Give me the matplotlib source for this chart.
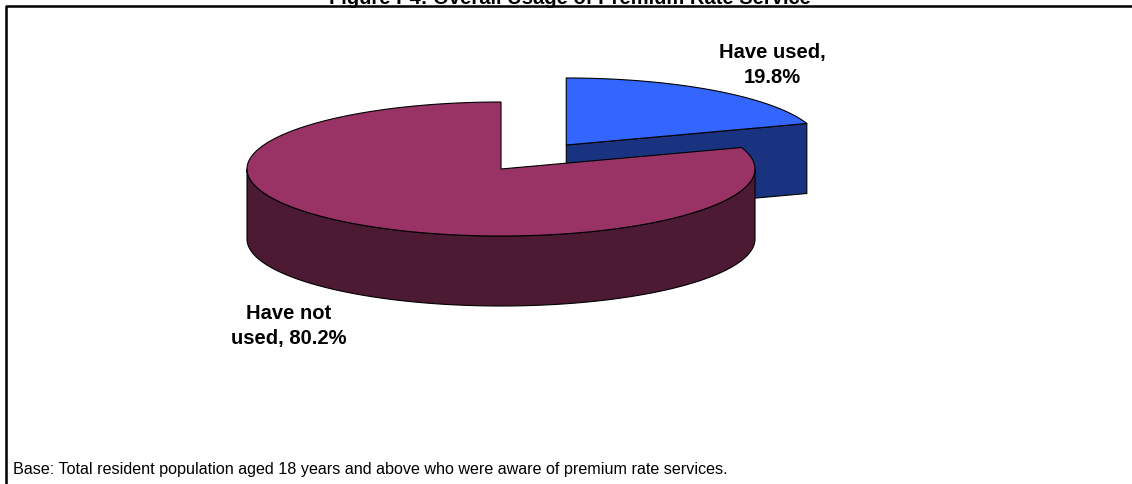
import numpy as np
import matplotlib.pyplot as plt
from matplotlib.patches import Polygon

# Overall usage of premium rate services
labels = ['Have used,\n19.8%', 'Have not\nused, 80.2%']
shares = [19.8, 80.2]
top_colors = ['#3366FF', '#993366']
side_colors = ['#1A3380', '#4D1A33']

plt.rcParams['font.family'] = ['Liberation Sans', 'DejaVu Sans']

fig = plt.figure(figsize=(11.32, 4.85), dpi=100)
ax = fig.add_axes([0, 0, 1, 1])
ax.set_xlim(0, 1132)
ax.set_ylim(485, 0)
ax.axis('off')

# pie geometry (pixel space, y down)
cx, cy = 501, 170
rx, ry = 254, 67
depth = 70
explode = [112, 0]


def rim(x0, y0, t):
    return x0 + rx * np.sin(t), y0 - ry * np.cos(t)


fracs = np.array(shares) / sum(shares)
bounds = np.concatenate([[0], np.cumsum(fracs)]) * 2 * np.pi

for i in range(len(shares)):
    t0, t1 = bounds[i], bounds[i + 1]
    mid = (t0 + t1) / 2
    x0 = cx + explode[i] * np.sin(mid)
    y0 = cy - explode[i] * np.cos(mid) * ry / rx
    kw = dict(edgecolor='black', linewidth=0.8, joinstyle='round')

    # outer wall, front half only
    s0, s1 = max(t0, np.pi / 2), min(t1, 3 * np.pi / 2)
    if s1 > s0:
        t = np.linspace(s0, s1, 200)
        xs, ys = rim(x0, y0, t)
        pts = np.column_stack([np.r_[xs, xs[::-1]], np.r_[ys, ys[::-1] + depth]])
        ax.add_patch(Polygon(pts, closed=True, facecolor=side_colors[i], **kw))

    # cut faces turned toward the viewer
    for t, show in [(t0, np.sin(t0) < -1e-6), (t1, np.sin(t1) > 1e-6)]:
        if show:
            rxp, ryp = rim(x0, y0, t)
            pts = [(x0, y0), (rxp, ryp), (rxp, ryp + depth), (x0, y0 + depth)]
            ax.add_patch(Polygon(pts, closed=True, facecolor=side_colors[i], **kw))

    # top face
    t = np.linspace(t0, t1, 300)
    xs, ys = rim(x0, y0, t)
    pts = np.column_stack([np.r_[x0, xs], np.r_[y0, ys]])
    ax.add_patch(Polygon(pts, closed=True, facecolor=top_colors[i], **kw))

label_pos = [(772, 65), (289, 326)]
for lab, (lx, ly) in zip(labels, label_pos):
    ax.text(lx, ly, lab, ha='center', va='center', fontsize=14.5,
            fontweight='bold', linespacing=1.35)

ax.text(570, 4, 'Figure P4: Overall Usage of Premium Rate Service',
        ha='center', va='baseline', fontsize=14.5, fontweight='bold')
ax.text(13, 470, 'Base: Total resident population aged 18 years and above '
        'who were aware of premium rate services.',
        ha='left', va='center', fontsize=11.6)

# chart frame
ax.plot([6, 6, 1132], [485, 7, 7], color='black', linewidth=1.8,
        solid_capstyle='butt', clip_on=False)

fig.savefig('out.png', dpi=100)
